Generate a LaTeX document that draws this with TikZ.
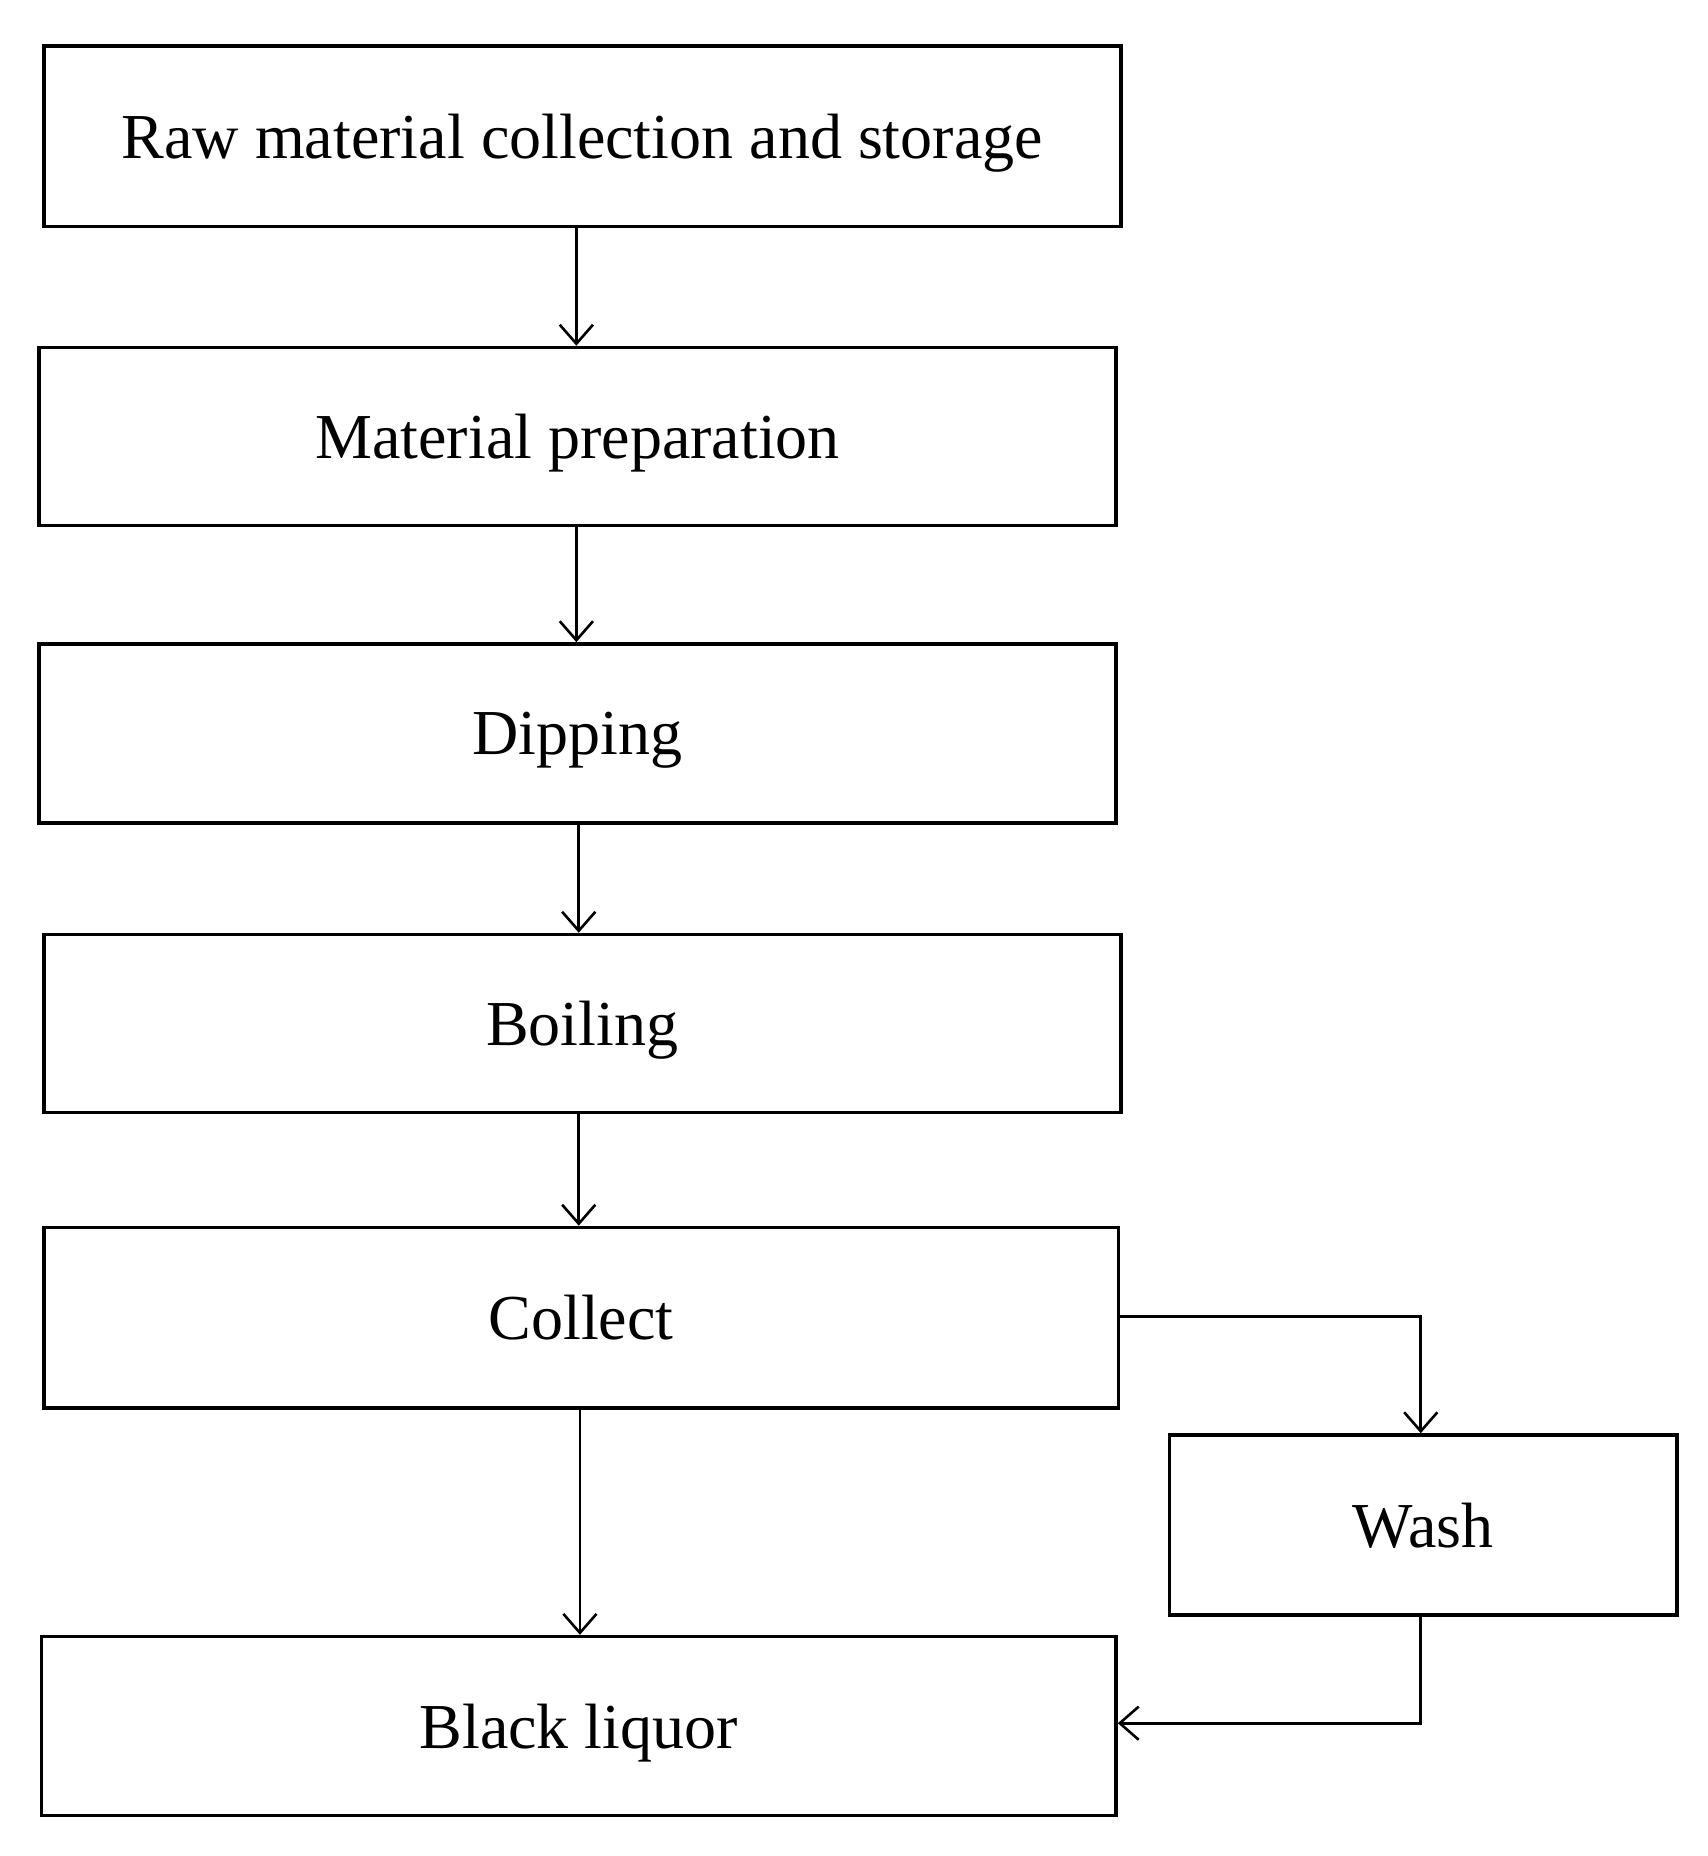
\documentclass[tikz,border=0pt]{standalone}
\usepackage{fontspec}
\setmainfont{Liberation Serif}
\usetikzlibrary{arrows.meta}
\begin{document}
\begin{tikzpicture}[x=0.5pt,y=-0.5pt,
  box/.style={draw,line width=1.5pt,inner sep=0pt,text depth=0pt,font=\fontsize{27}{32}\selectfont},
  arr/.style={line width=1.1pt,-{Straight Barb[length=8pt,width=14pt,line width=1.1pt]}}]
\useasboundingbox (0,0) rectangle (1440,1565);
\node[box,minimum width=908*0.5pt,minimum height=152*0.5pt] (b1) at (491,115) {Raw material collection and storage};
\node[box,minimum width=908*0.5pt,minimum height=150*0.5pt] (b2) at (487,368) {Material preparation};
\node[box,minimum width=908*0.5pt,minimum height=151*0.5pt] (b3) at (487,618.5) {Dipping};
\node[box,minimum width=908*0.5pt,minimum height=150*0.5pt] (b4) at (491,863) {Boiling};
\node[box,minimum width=906*0.5pt,minimum height=152*0.5pt] (b5) at (490,1111) {Collect};
\node[box,minimum width=428*0.5pt,minimum height=152*0.5pt] (w) at (1200,1286) {Wash};
\node[box,minimum width=906*0.5pt,minimum height=151*0.5pt] (b6) at (488,1455.5) {Black liquor};
\coordinate (a1) at (486,0);
\draw[arr] (b1.south -| a1) -- (b2.north -| a1);
\draw[arr] (b2.south -| a1) -- (b3.north -| a1);
\coordinate (a2) at (488,0);
\draw[arr] (b3.south -| a2) -- (b4.north -| a2);
\draw[arr] (b4.south -| a2) -- (b5.north -| a2);
\coordinate (a3) at (489,0);
\draw[arr] (b5.south -| a3) -- (b6.north -| a3);
\coordinate (c1) at (1198,1110);
\coordinate (c2) at (1198,1453);
\draw[arr] (b5.east |- c1) -- (c1) -- (w.north -| c1);
\draw[arr] (w.south -| c2) -- (c2) -- (b6.east |- c2);
\end{tikzpicture}
\end{document}
